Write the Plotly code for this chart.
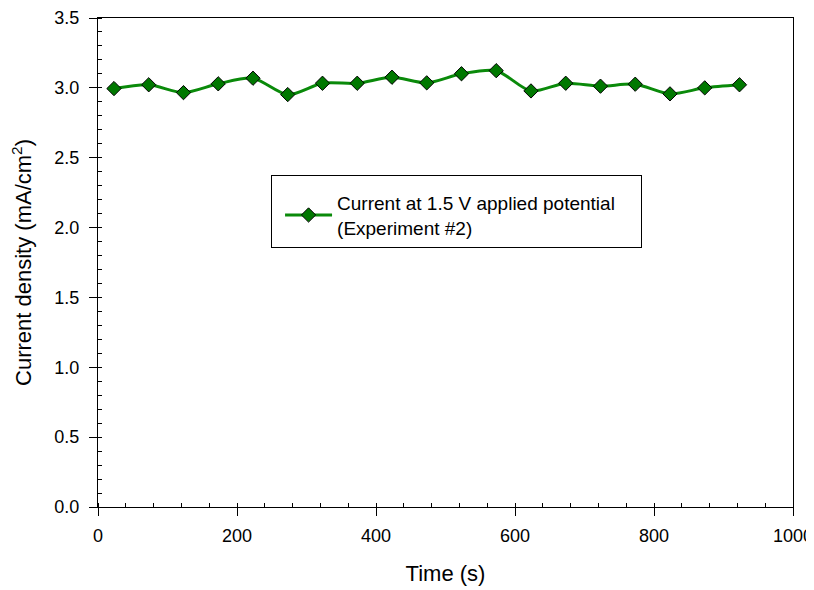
import plotly.graph_objects as go

time_s = [23, 73, 123, 173, 223, 273, 323, 373, 423, 473, 523, 573, 623, 673, 723, 773, 823, 873, 923]
current_density = [2.995, 3.022, 2.966, 3.029, 3.069, 2.952, 3.033, 3.033, 3.076, 3.036,
                   3.101, 3.123, 2.978, 3.033, 3.012, 3.026, 2.957, 3.000, 3.022]
series_name = "Current at 1.5 V applied potential\u00a0\u00a0\u00a0\u00a0<br>(Experiment #2)"

FONT = "Liberation Sans, Arial, sans-serif"

fig = go.Figure()
fig.add_trace(go.Scatter(
    x=time_s, y=current_density, name=series_name,
    mode="lines+markers",
    line=dict(color="#0a8a0a", width=3, shape="spline", smoothing=0.8),
    marker=dict(symbol="diamond", size=11, color="#007800",
                line=dict(color="black", width=1)),
))

axis_common = dict(
    showline=True, linecolor="black", linewidth=1, mirror=True,
    showgrid=False, zeroline=False, automargin=False,
    ticks="outside", ticklen=8, tickwidth=1, tickcolor="black",
    tickfont=dict(family=FONT, size=18, color="black"),
)

fig.update_layout(
    width=814, height=590,
    margin=dict(l=90, r=29, t=10, b=91),
    paper_bgcolor="white", plot_bgcolor="white",
    font=dict(family=FONT, color="black"),
    showlegend=True,
    legend=dict(
        x=0.249, y=0.679, xanchor="left", yanchor="top",
        bordercolor="black", borderwidth=1, bgcolor="white",
        font=dict(family=FONT, size=19, color="black"),
        indentation=8, itemwidth=47,
        title=dict(text="\u00a0", font=dict(size=6)),
    ),
    xaxis=dict(
        range=[0, 1000], tickmode="linear", tick0=0, dtick=200,
        ticklabelstandoff=4,
        minor=dict(dtick=40, ticks="inside", ticklen=4, tickcolor="black", tickwidth=1),
        title=dict(text="Time (s)", font=dict(family=FONT, size=22, color="black"), standoff=21),
        **axis_common,
    ),
    yaxis=dict(
        range=[0, 3.5], tickmode="linear", tick0=0, dtick=0.5, tickformat=".1f",
        ticklabelstandoff=6,
        minor=dict(dtick=0.1, ticks="inside", ticklen=4, tickcolor="black", tickwidth=1),
        title=dict(text="Current density (mA/cm<sup>2</sup>)", font=dict(family=FONT, size=22, color="black"), standoff=20),
        **axis_common,
    ),
)

fig.write_html("out.html")
